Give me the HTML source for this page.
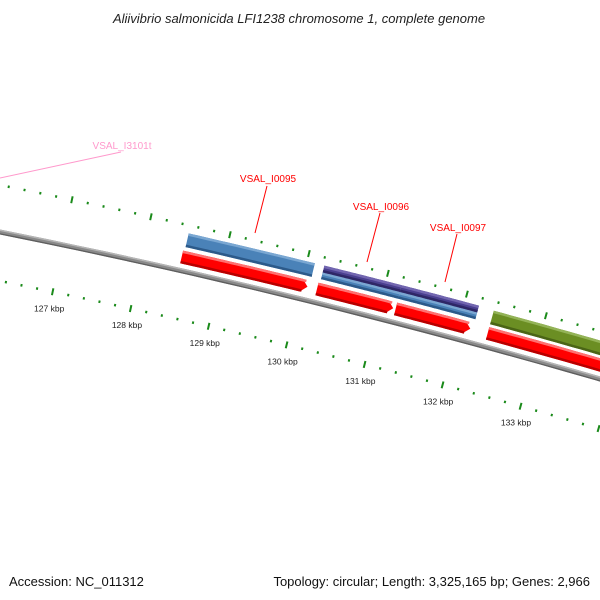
<!DOCTYPE html>
<html><head><meta charset="utf-8"><style>
html,body{margin:0;padding:0;background:#fff;}
svg{display:block;font-family:"Liberation Sans",sans-serif;}
</style></head><body>
<svg id="map" width="600" height="600" viewBox="0 0 600 600">
<text x="299" y="23" text-anchor="middle" font-size="13" font-style="italic" fill="#222">Aliivibrio salmonicida LFI1238 chromosome 1, complete genome</text>
<g id="ticks"></g>
<g id="features"></g>
<g id="labels">
<line x1="0" y1="178" x2="121" y2="152" stroke="#ff99cc" stroke-width="1"/>
<text x="122" y="149" text-anchor="middle" font-size="10" fill="#ff99cc">VSAL_I3101t</text>
<line x1="267" y1="186" x2="255" y2="233" stroke="#f00" stroke-width="1"/>
<text x="268" y="182" text-anchor="middle" font-size="10" fill="#f00">VSAL_I0095</text>
<line x1="380" y1="213" x2="367" y2="262" stroke="#f00" stroke-width="1"/>
<text x="381" y="210" text-anchor="middle" font-size="10" fill="#f00">VSAL_I0096</text>
<line x1="457" y1="234" x2="445" y2="282" stroke="#f00" stroke-width="1"/>
<text x="458" y="231" text-anchor="middle" font-size="10" fill="#f00">VSAL_I0097</text>
</g>
<text x="9" y="586" font-size="13" fill="#111">Accession: NC_011312</text>
<text x="590" y="586" text-anchor="end" font-size="13" fill="#111">Topology: circular; Length: 3,325,165 bp; Genes: 2,966</text>
</svg>
<script>
// data
const majorTicks = [126, 127, 128, 129, 130, 131, 132, 133, 134];
const tickLabels = ["127 kbp", "128 kbp", "129 kbp", "130 kbp", "131 kbp", "132 kbp", "133 kbp"];
const tickLabelPos = [127, 128, 129, 130, 131, 132, 133];
const featureNames = ["VSAL_I0095-cds", "VSAL_I0095", "VSAL_I0096-cds", "VSAL_I0096-purple", "VSAL_I0096", "VSAL_I0097-cds", "VSAL_I0097-purple", "VSAL_I0097", "VSAL_I0098-cds", "VSAL_I0098"];
const featureStarts = [128.50, 128.48, 130.22, 130.22, 130.20, 131.20, 131.20, 131.20, 132.37, 132.37];
const featureEnds = [130.10, 130.08, 131.20, 131.20, 131.17, 132.18, 132.18, 132.15, 135.5, 135.5];
const featureTracks = ["blue", "red", "blueLow", "purple", "red", "blueLow", "purple", "red", "green", "red"];

const NS = "http://www.w3.org/2000/svg";
function xb(k){ return 62.5 + 78.5*(k-127); }
function yb(x){ return 232 + 0.2*x + 0.000075*x*x; }
function pt(k,d){
  const x = xb(k), y = yb(x);
  const s = 0.2 + 0.00015*x, th = Math.atan(s);
  return [x - d*Math.sin(th), y + d*Math.cos(th)];
}
function band(k1,k2,d1,d2,arrow){
  const n=30, top=[], bot=[];
  const ke = arrow ? k2-0.08 : k2;
  for(let i=0;i<=n;i++){ const k=k1+(ke-k1)*i/n; top.push(pt(k,d1)); bot.push(pt(k,d2)); }
  let pts = top.slice();
  if(arrow){ pts.push(pt(k2,(d1+d2)/2)); }
  pts = pts.concat(bot.reverse());
  return pts.map(p=>p[0].toFixed(1)+","+p[1].toFixed(1)).join(" ");
}
function poly(parent, pts, fill){
  const p=document.createElementNS(NS,"polygon");
  p.setAttribute("points",pts); p.setAttribute("fill",fill);
  parent.appendChild(p); return p;
}
const tk=document.getElementById("ticks");
const fg=document.getElementById("features");

// backbone
const bb=document.createElementNS(NS,"g");


fg.appendChild(bb);
poly(bb, band(125,136,-2.5,2.5,false), "#8a8a8a");
poly(bb, band(125,136,-2.5,-1,false), "#b5b5b5");
poly(bb, band(125,136,1.2,2.5,false), "#5e5e5e");

// ticks
function tickLine(k,d,len,w,name){
  const a=pt(k,d-len/2), b=pt(k,d+len/2);
  const l=document.createElementNS(NS,"line");
  l.setAttribute("x1",a[0]); l.setAttribute("y1",a[1]); l.setAttribute("x2",b[0]); l.setAttribute("y2",b[1]);
  l.setAttribute("stroke","#1a8a1a"); l.setAttribute("stroke-width",w);
  
  
  tk.appendChild(l);
}
majorTicks.forEach(m=>{
  [48,-46].forEach(d=>{
    tickLine(m,d,7,2,'major-tick');
    for(let j=1;j<5;j++) tickLine(m+j*0.2,d,2.5,2,'minor-tick');
  });
});
tickLabels.forEach((t,i)=>{
  const p=pt(tickLabelPos[i],65);
  const tx=document.createElementNS(NS,"text");
  tx.setAttribute("x",p[0]); tx.setAttribute("y",p[1]+3);
  tx.setAttribute("text-anchor","middle"); tx.setAttribute("font-size","8.5"); tx.setAttribute("fill","#222");
  tx.textContent=t;
  
  
  tk.appendChild(tx);
});

// features
const styles = {
  blue:{d:[-38,-24],c:["#4a82b8","#7aa7d2","#2c5a8a"],arrow:false},
  blueLow:{d:[-31,-24],c:["#4a82b8","#7aa7d2","#2c5a8a"],arrow:false},
  purple:{d:[-38,-31],c:["#4a3f8f","#7266b0","#2e2766"],arrow:false},
  green:{d:[-37,-23],c:["#6b8e23","#93b357","#4a6516"],arrow:false},
  red:{d:[-20,-7],c:["#ff0000","#ff7070","#b80000"],arrow:true}
};
featureNames.forEach((nm,i)=>{
  const st=styles[featureTracks[i]];
  const g=document.createElementNS(NS,"g");
  
  
  fg.appendChild(g);
  const [d1,d2]=st.d, k1=featureStarts[i], k2=featureEnds[i];
  poly(g, band(k1,k2,d1,d2,st.arrow), st.c[0]);
  poly(g, band(k1,k2-(st.arrow?0.03:0),d1,d1+2.5,false), st.c[1]);
  poly(g, band(k1,k2-(st.arrow?0.06:0),d2-2.5,d2,false), st.c[2]);
});
</script>
</body></html>
